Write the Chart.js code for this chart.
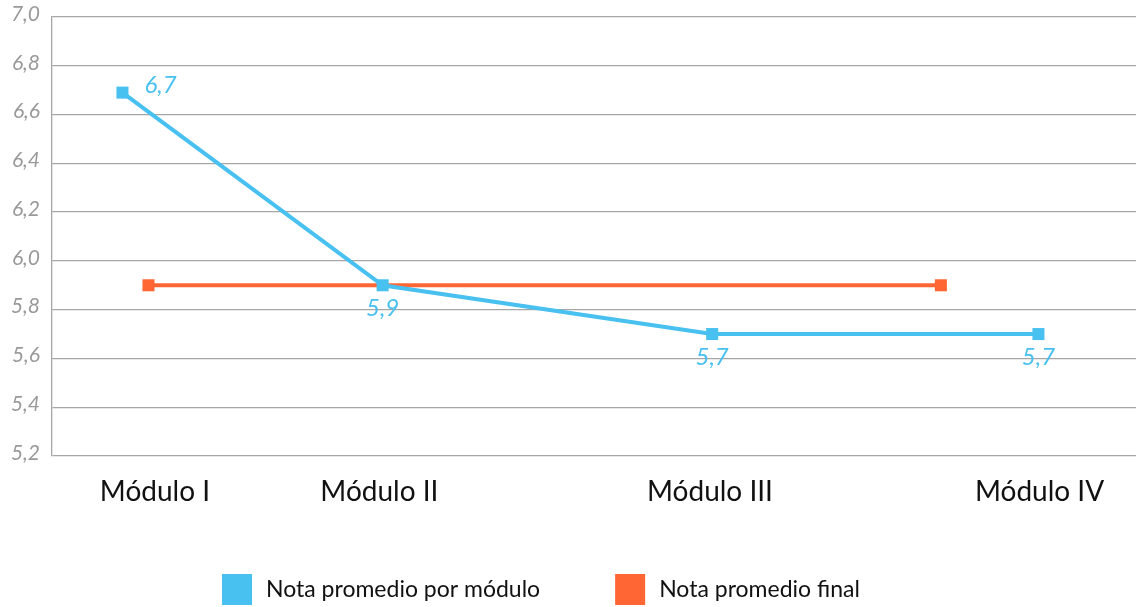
<!DOCTYPE html>
<html>
<head>
<meta charset="utf-8">
<script src="https://cdn.jsdelivr.net/npm/chart.js@4.4.1/dist/chart.umd.min.js"></script>
<style>
  html, body { margin: 0; padding: 0; background: #fff; overflow: hidden; }
</style>
</head>
<body>
<canvas id="chart" width="1136" height="607"></canvas>
<script>
// categories and where they sit on the horizontal scale
const categories = ['Módulo I', 'Módulo II', 'Módulo III', 'Módulo IV'];
const categoryPos = [0.95, 3.02, 6.07, 9.11];

// Nota promedio por módulo
const moduloX = [0.65, 3.05, 6.09, 9.10];
const moduloValues = [6.69, 5.9, 5.7, 5.7];
const moduloLabelSide = ['right', 'below', 'below', 'below'];

// Nota promedio final
const finalX = [0.89, 8.20];
const finalValues = [5.9, 5.9];

const yTicks = [5.2, 5.4, 5.6, 5.8, 6.0, 6.2, 6.4, 6.6, 6.8, 7.0];

const blue = '#48c0f0';
const orange = '#ff6633';
const gridGray = '#a6a6a6';

const toComma = v => v.toFixed(1).replace('.', ',');

const pointLabels = {
    id: 'pointLabels',
    afterDatasetsDraw(chart) {
        const ctx = chart.ctx;
        const meta = chart.getDatasetMeta(0);
        ctx.save();
        ctx.font = 'italic 24px Lato';
        ctx.fillStyle = blue;
        meta.data.forEach((pt, i) => {
            const txt = toComma(moduloValues[i]);
            if (moduloLabelSide[i] === 'right') {
                ctx.textAlign = 'left';
                ctx.textBaseline = 'middle';
                ctx.fillText(txt, pt.x + 22, pt.y - 7);
            } else {
                ctx.textAlign = 'center';
                ctx.textBaseline = 'top';
                ctx.fillText(txt, pt.x, pt.y + 11);
            }
        });
        ctx.restore();
    }
};

// legend drawn by hand so the item spacing can be wide while staying low
const squareLegend = {
    id: 'squareLegend',
    afterDraw(chart) {
        const ctx = chart.ctx;
        const box = 30, gap = 14, spacing = 75;
        let x = 222;
        const top = 574, mid = top + box / 2;
        ctx.save();
        ctx.font = '23px Lato';
        ctx.textBaseline = 'middle';
        ctx.textAlign = 'left';
        chart.data.datasets.forEach(ds => {
            ctx.fillStyle = ds.borderColor;
            ctx.fillRect(x, top, box, box + 1);
            ctx.fillStyle = '#111';
            ctx.fillText(ds.label, x + box + gap, mid + 1);
            x += box + gap + ctx.measureText(ds.label).width + spacing;
        });
        ctx.restore();
    }
};

new Chart(document.getElementById('chart'), {
    type: 'line',
    data: {
        datasets: [
            {
                label: 'Nota promedio por módulo',
                data: moduloX.map((x, i) => ({ x: x, y: moduloValues[i] })),
                borderColor: blue,
                backgroundColor: blue,
                borderWidth: 4,
                pointStyle: 'rect',
                pointRadius: 8.5,
                pointBorderWidth: 0,
                tension: 0
            },
            {
                label: 'Nota promedio final',
                data: finalX.map((x, i) => ({ x: x, y: finalValues[i] })),
                borderColor: orange,
                backgroundColor: orange,
                borderWidth: 4,
                pointStyle: 'rect',
                pointRadius: 8.5,
                pointBorderWidth: 0,
                tension: 0
            }
        ]
    },
    options: {
        responsive: false,
        animation: false,
        layout: {
            autoPadding: false,
            padding: { top: 17, left: 0, right: 0, bottom: 50 }
        },
        scales: {
            x: {
                type: 'linear',
                min: 0,
                max: 10,
                afterBuildTicks: scale => {
                    scale.ticks = categoryPos.map(v => ({ value: v }));
                },
                afterFit: scale => {
                    scale.height = 101;
                    scale.paddingLeft = 0;
                    scale.paddingRight = 0;
                },
                grid: { display: false, drawTicks: false },
                border: { display: false },
                ticks: {
                    autoSkip: false,
                    maxRotation: 0,
                    padding: 19,
                    color: '#111',
                    font: { family: 'Lato', size: 28 },
                    callback: value => {
                        const i = categoryPos.indexOf(value);
                        return i >= 0 ? categories[i] : '';
                    }
                }
            },
            y: {
                min: 5.2,
                max: 7.0,
                afterBuildTicks: scale => {
                    scale.ticks = yTicks.map(v => ({ value: v }));
                },
                afterFit: scale => {
                    scale.width = 52;
                    scale.paddingTop = 0;
                    scale.paddingBottom = 0;
                },
                grid: { color: gridGray, lineWidth: 1.3, drawTicks: false },
                border: { display: true, color: gridGray, width: 1.3 },
                ticks: {
                    padding: 12,
                    labelOffset: -3,
                    color: '#999',
                    font: { family: 'Lato', size: 21, style: 'italic' },
                    callback: value => toComma(value)
                }
            }
        },
        plugins: {
            legend: { display: false },
            tooltip: { enabled: false }
        }
    },
    plugins: [pointLabels, squareLegend]
});
</script>
</body>
</html>
